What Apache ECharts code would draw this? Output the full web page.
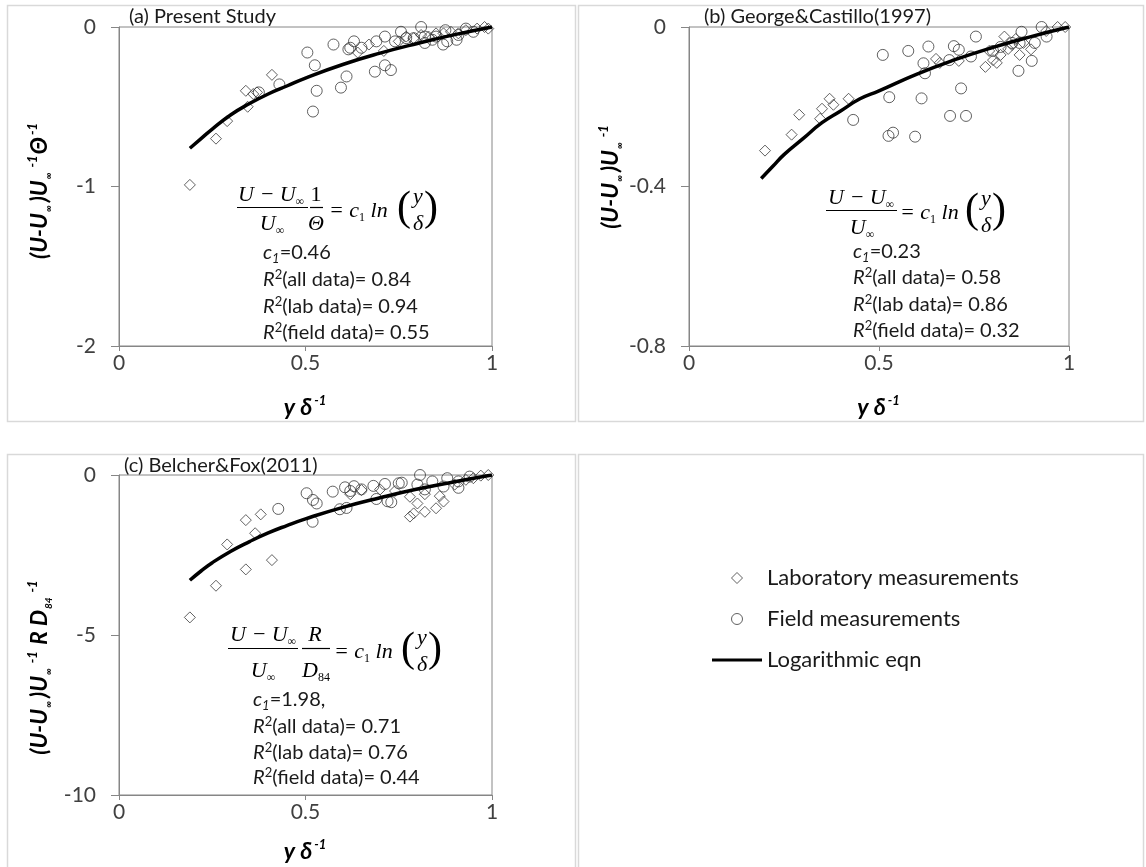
<!DOCTYPE html>
<html><head><meta charset="utf-8">
<script src="https://cdn.jsdelivr.net/npm/echarts@6/dist/echarts.min.js"></script>
<style>html,body{margin:0;padding:0;background:#fff}#c{width:1146px;height:867px}</style>
</head><body><div id="c"></div><script>
// ---------- data ----------
const xTicks = [0, 0.5, 1];
const yTicksA = [-2, -1, 0];
const yTicksB = [-0.8, -0.4, 0];
const yTicksC = [-10, -5, 0];
const seriesNames = ['Laboratory measurements', 'Field measurements', 'Logarithmic eqn'];
const panelTitles = ['(a) Present Study', '(b) George&Castillo(1997)', '(c) Belcher&Fox(2011)'];

const labA = [[0.19,-0.99],[0.26,-0.70],[0.29,-0.59],[0.345,-0.50],[0.34,-0.40],[0.36,-0.42],[0.37,-0.41],[0.41,-0.30],
  [0.64,-0.16],[0.67,-0.11],[0.71,-0.15],[0.75,-0.09],[0.77,-0.06],[0.79,-0.07],[0.81,-0.05],[0.83,-0.06],[0.85,-0.04],
  [0.87,-0.04],[0.89,-0.03],[0.91,-0.04],[0.93,-0.02],[0.96,-0.01],[0.98,0],[0.99,-0.01]];
const fieldA = [[0.43,-0.36],[0.375,-0.41],[0.505,-0.16],[0.525,-0.24],[0.53,-0.40],[0.52,-0.53],[0.575,-0.11],[0.61,-0.31],
  [0.595,-0.38],[0.615,-0.14],[0.63,-0.09],[0.62,-0.13],[0.686,-0.28],[0.713,-0.24],[0.729,-0.27],[0.69,-0.09],[0.713,-0.06],
  [0.74,-0.09],[0.756,-0.03],[0.81,0.0],[0.79,-0.07],[0.82,-0.10],[0.869,-0.11],[0.875,-0.02],[0.905,-0.08],[0.93,-0.01],
  [0.85,-0.06],[0.91,-0.05],[0.82,-0.06],[0.77,-0.07],[0.65,-0.13],[0.84,-0.08],[0.88,-0.09],[0.95,-0.03]];

const labB = [[0.20,-0.31],[0.27,-0.27],[0.29,-0.22],[0.345,-0.23],[0.35,-0.205],[0.37,-0.18],[0.38,-0.195],[0.42,-0.18],
  [0.65,-0.08],[0.66,-0.09],[0.71,-0.085],[0.78,-0.10],[0.80,-0.083],[0.81,-0.09],[0.82,-0.07],[0.83,-0.024],[0.85,-0.045],
  [0.87,-0.07],[0.90,-0.056],[0.86,-0.03],[0.88,-0.04],[0.94,-0.01],[0.97,0.0],[0.99,0.0],[0.79,-0.06],[0.84,-0.055]];
const fieldB = [[0.51,-0.07],[0.577,-0.06],[0.63,-0.049],[0.527,-0.176],[0.612,-0.179],[0.432,-0.233],[0.525,-0.273],
  [0.537,-0.265],[0.595,-0.275],[0.687,-0.223],[0.729,-0.223],[0.716,-0.154],[0.617,-0.091],[0.621,-0.116],[0.685,-0.083],
  [0.697,-0.048],[0.71,-0.057],[0.742,-0.074],[0.755,-0.024],[0.81,0.002],[0.82,-0.05],[0.867,-0.11],[0.902,-0.085],
  [0.875,-0.012],[0.91,-0.04],[0.928,0.0],[0.941,-0.024],[0.85,-0.04],[0.87,-0.04],[0.80,-0.06]];

const labC = [[0.19,-4.45],[0.26,-3.46],[0.34,-2.95],[0.41,-2.66],[0.29,-2.17],[0.365,-1.82],[0.34,-1.41],[0.38,-1.23],
  [0.78,-1.30],[0.79,-1.2],[0.80,-0.89],[0.82,-1.15],[0.85,-1.04],[0.87,-0.83],[0.86,-0.66],[0.78,-0.68],[0.65,-0.47],
  [0.62,-0.6],[0.70,-0.45],[0.74,-0.5],[0.82,-0.6],[0.9,-0.3],[0.95,-0.1],[0.97,-0.02],[0.99,0.0],[0.93,-0.15]];
const fieldC = [[0.427,-1.06],[0.503,-0.57],[0.52,-0.78],[0.53,-0.89],[0.519,-1.46],[0.573,-0.52],[0.592,-1.07],[0.61,-1.03],
  [0.606,-0.385],[0.62,-0.5],[0.682,-0.34],[0.69,-0.75],[0.713,-0.28],[0.72,-0.82],[0.73,-0.85],[0.75,-0.26],[0.758,-0.24],
  [0.807,0.0],[0.82,-0.45],[0.87,-0.36],[0.88,-0.1],[0.91,-0.4],[0.91,-0.2],[0.94,-0.05],[0.65,-0.45],[0.80,-0.3],
  [0.84,-0.2],[0.63,-0.35]];

const curveX = [0.19,0.22,0.25,0.3,0.35,0.4,0.45,0.5,0.6,0.7,0.8,0.9,1.0];
const curveA = [-0.76,-0.70,-0.64,-0.55,-0.48,-0.42,-0.37,-0.32,-0.235,-0.164,-0.103,-0.048,0];
const curveB = [-0.38,-0.35,-0.32,-0.28,-0.24,-0.21,-0.18,-0.16,-0.118,-0.082,-0.051,-0.024,0];
const curveC = [-3.29,-3.00,-2.74,-2.38,-2.08,-1.81,-1.58,-1.37,-1.01,-0.71,-0.44,-0.21,0];

const statsA = ['0.46', '0.84', '0.94', '0.55'];
const statsB = ['0.23', '0.58', '0.86', '0.32'];
const statsC = ['1.98,', '0.71', '0.76', '0.44'];

// ---------- styles ----------
const AX = '#868686';
const LBL = '#404040';
const FONT = 'Lato';
const nameRich = {
  b: {fontFamily: FONT, fontWeight: 'bold', fontStyle: 'italic', fontSize: 23, color: '#000', lineHeight: 28},
  sub: {fontFamily: FONT, fontWeight: 'bold', fontStyle: 'italic', fontSize: 10, color: '#000', verticalAlign: 'bottom', lineHeight: 12, padding: [0, 3, 0, 1]},
  sup: {fontFamily: FONT, fontWeight: 'bold', fontStyle: 'italic', fontSize: 13, color: '#000', verticalAlign: 'top', lineHeight: 13, padding: [0, 1, 0, 2]}
};

function xAxis(gi, gap) {
  return {
    type: 'value', gridIndex: gi, min: xTicks[0], max: xTicks[2], interval: xTicks[1] - xTicks[0],
    splitLine: {show: false},
    axisLine: {show: true, onZero: false, lineStyle: {color: AX, width: 1}},
    axisTick: {show: true, inside: false, length: 5, lineStyle: {color: AX}},
    axisLabel: {fontFamily: FONT, fontSize: 21, color: LBL, margin: 7},
    name: '{b|y δ}{sup|-1}', nameLocation: 'middle', nameGap: gap,
    nameTextStyle: {rich: nameRich}
  };
}
function yAxis(gi, ticks, name, gap, pad) {
  return {
    type: 'value', gridIndex: gi, min: ticks[0], max: ticks[2], interval: ticks[1] - ticks[0],
    splitLine: {show: false},
    axisLine: {show: true, onZero: false, lineStyle: {color: AX, width: 1}},
    axisTick: {show: true, inside: false, length: 8, lineStyle: {color: AX}},
    axisLabel: {fontFamily: FONT, fontSize: 21, color: LBL, margin: 23},
    name: name, nameLocation: 'middle', nameRotate: 90, nameGap: gap,
    nameTextStyle: {rich: nameRich, padding: pad}
  };
}
function scatter(name, gi, data, symbol) {
  return {
    name: name, type: 'scatter', xAxisIndex: gi, yAxisIndex: gi, data: data,
    symbol: symbol, symbolSize: 11,
    itemStyle: {color: 'rgba(0,0,0,0)', borderColor: '#3a3a3a', borderWidth: 1},
    emphasis: {disabled: true}, z: 3
  };
}
function curve(gi, ys) {
  return {
    name: seriesNames[2], type: 'line', xAxisIndex: gi, yAxisIndex: gi,
    data: curveX.map((x, i) => [x, ys[i]]), smooth: true, symbol: 'none', showSymbol: false,
    itemStyle: {color: '#000'},
    lineStyle: {color: '#000', width: 3.5}, emphasis: {disabled: true}, z: 4
  };
}

// ---------- graphic helpers ----------
const EQF = 'Liberation Serif';
const EQS = 22;
const eqRich = {
  s: {fontFamily: EQF, fontStyle: 'normal', fontSize: 12, verticalAlign: 'bottom', lineHeight: 12, fill: '#000'}
};
function T(x, y, text, opt) {
  opt = opt || {};
  return {
    type: 'text', silent: true, z: 10,
    style: {
      x: x, y: y, text: text, fill: opt.fill || '#000',
      fontFamily: opt.ff || EQF, fontStyle: opt.fs || 'italic', fontWeight: 'normal',
      fontSize: opt.size || EQS, lineHeight: opt.lh || 26,
      align: opt.align || 'left', verticalAlign: 'middle', rich: opt.rich || eqRich
    }
  };
}
function L(x1, y1, x2, y2) {
  return {type: 'line', silent: true, z: 10, shape: {x1: x1, y1: y1, x2: x2, y2: y2}, style: {stroke: '#000', lineWidth: 1.2}};
}
function R(x, y, w, h) {
  return {type: 'rect', silent: true, z: -10, shape: {x: x, y: y, width: w, height: h}, style: {fill: 'none', stroke: '#d9d9d9', lineWidth: 1.5}};
}
const statRich = {
  i: {fontFamily: FONT, fontStyle: 'italic', fontSize: 20, fill: '#1a1a1a', lineHeight: 24},
  n: {fontFamily: FONT, fontSize: 20, fill: '#1a1a1a', lineHeight: 24},
  sub: {fontFamily: FONT, fontStyle: 'italic', fontSize: 13, fill: '#1a1a1a', verticalAlign: 'bottom', lineHeight: 15},
  sup: {fontFamily: FONT, fontSize: 13, fill: '#1a1a1a', verticalAlign: 'top', lineHeight: 13}
};
function stats(x, y0, dy, vals) {
  const lines = [
    '{i|c}{sub|1}{n|=' + vals[0] + '}',
    '{i|R}{sup|2}{n|(all data)= ' + vals[1] + '}',
    '{i|R}{sup|2}{n|(lab data)= ' + vals[2] + '}',
    '{i|R}{sup|2}{n|(field data)= ' + vals[3] + '}'
  ];
  return lines.map((t, k) => T(x, y0 + dy[k], t, {ff: FONT, fs: 'normal', size: 20, lh: 24, rich: statRich}));
}
const PAR = {align: 'center', fs: 'normal', size: 42, lh: 46};

const graphics = [
  R(7.5, 5.5, 568, 416), R(578.5, 5.5, 565, 416), R(7.5, 454.5, 568, 420), R(578.5, 454.5, 565, 420),
  // panel a equation
  T(238, 195, 'U − U{s|∞}'), L(237, 207.5, 308, 207.5), T(272, 224, 'U{s|∞}', {align: 'center'}),
  T(316, 195, '1', {align: 'center', fs: 'normal'}), L(310, 207.5, 323, 207.5), T(316, 224, 'Θ', {align: 'center'}),
  T(329, 211, '= c{s|1} ln'),
  T(404, 209, '(', PAR), T(418, 197, 'y', {align: 'center'}),
  T(418, 224, 'δ', {align: 'center'}), T(431, 209, ')', PAR),
  // panel b equation
  T(828, 198, 'U − U{s|∞}'), L(826, 210.5, 897, 210.5), T(862, 228, 'U{s|∞}', {align: 'center'}),
  T(900, 213, '= c{s|1} ln'),
  T(972, 211, '(', PAR), T(986, 199, 'y', {align: 'center'}),
  T(986, 226, 'δ', {align: 'center'}), T(999, 211, ')', PAR),
  // panel c equation
  T(230, 635, 'U − U{s|∞}'), L(228, 648.5, 298, 648.5), T(263, 671, 'U{s|∞}', {align: 'center'}),
  T(315, 635, 'R', {align: 'center'}), L(302, 648.5, 330, 648.5), T(316, 671, 'D{s|84}', {align: 'center'}),
  T(334, 652, '= c{s|1} ln'),
  T(408, 650, '(', PAR), T(422, 638, 'y', {align: 'center'}),
  T(422, 665, 'δ', {align: 'center'}), T(435, 650, ')', PAR)
].concat(
  stats(263, 253, [0, 27, 54, 80], statsA),
  stats(853, 252, [0, 26, 53, 79], statsB),
  stats(253, 700, [0, 27, 53, 78], statsC)
);

const titleStyle = {fontFamily: FONT, fontSize: 20, fontWeight: 'normal', color: '#1a1a1a'};

const option = {
  animation: false,
  backgroundColor: '#fff',
  title: [
    {text: panelTitles[0], left: 129, top: 7, padding: 0, textStyle: titleStyle},
    {text: panelTitles[1], left: 704, top: 7, padding: 0, textStyle: titleStyle},
    {text: panelTitles[2], left: 124, top: 456, padding: 0, textStyle: titleStyle}
  ],
  grid: [
    {left: 119, top: 27, width: 373, height: 319, show: true, borderColor: AX, borderWidth: 1, backgroundColor: 'transparent'},
    {left: 689, top: 27, width: 380, height: 319, show: true, borderColor: AX, borderWidth: 1, backgroundColor: 'transparent'},
    {left: 119, top: 475, width: 373, height: 320, show: true, borderColor: AX, borderWidth: 1, backgroundColor: 'transparent'}
  ],
  xAxis: [xAxis(0, 48), xAxis(1, 48), xAxis(2, 43)],
  yAxis: [
    yAxis(0, yTicksA, '{b|(U-U}{sub|∞}{b|)U}{sub|∞}{sup|-1}{b|Θ}{sup|-1}', 65, [0, 8, 0, 0]),
    yAxis(1, yTicksB, '{b|(U-U}{sub|∞}{b|)U}{sub|∞}{sup|-1}', 53, [0, 0, 0, 20]),
    yAxis(2, yTicksC, '{b|(U-U}{sub|∞}{b|)U}{sub|∞}{sup|-1}{b| R D}{sub|84}{sup|-1}', 65, [0, 64, 0, 0])
  ],
  legend: {
    orient: 'vertical', left: 707, top: 562, itemWidth: 50, itemHeight: 11, itemGap: 19,
    selectedMode: false,
    data: [
      {name: seriesNames[0], icon: 'path://M5,0 L10,5 L5,10 L0,5 Z'},
      {name: seriesNames[1], icon: 'circle'},
      {name: seriesNames[2], icon: 'path://M0,0 L50,0 L50,3 L0,3 Z', itemStyle: {color: '#000', borderWidth: 0}}
    ],
    symbolKeepAspect: true,
    textStyle: {fontFamily: FONT, fontSize: 22, lineHeight: 22, color: '#1a1a1a'},
    itemStyle: {borderWidth: 1}
  },
  series: [
    scatter(seriesNames[0], 0, labA, 'diamond'), scatter(seriesNames[1], 0, fieldA, 'circle'), curve(0, curveA),
    scatter(seriesNames[0], 1, labB, 'diamond'), scatter(seriesNames[1], 1, fieldB, 'circle'), curve(1, curveB),
    scatter(seriesNames[0], 2, labC, 'diamond'), scatter(seriesNames[1], 2, fieldC, 'circle'), curve(2, curveC)
  ],
  graphic: graphics
};
const chart = echarts.init(document.getElementById('c'), null, {renderer: 'canvas'});
chart.setOption(option);
</script></body></html>
